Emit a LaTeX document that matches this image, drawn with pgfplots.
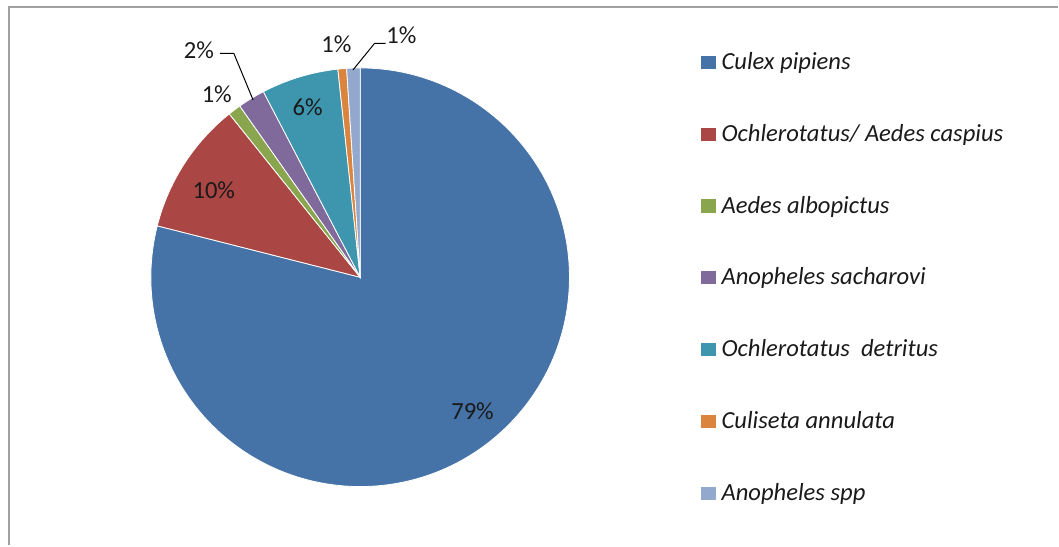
\documentclass[border=0pt]{standalone}
\usepackage{pgfplots}
\usepackage{pgfplotstable}
\pgfplotsset{compat=1.18}
\usepackage{fontspec}
\setmainfont{Carlito}
\definecolor{c1}{HTML}{4572A7}
\definecolor{c2}{HTML}{AA4643}
\definecolor{c3}{HTML}{89A54E}
\definecolor{c4}{HTML}{80699B}
\definecolor{c5}{HTML}{3D96AE}
\definecolor{c6}{HTML}{DB843D}
\definecolor{c7}{HTML}{92A8CD}
\definecolor{bordergray}{HTML}{A0A0A0}
\definecolor{txt}{HTML}{1A1A1A}

% share of each species (percent), clockwise from 12 o'clock
\pgfplotstableread[col sep=comma]{
name,value,color
Culex pipiens,78.95,c1
Ochlerotatus/ Aedes caspius,10.30,c2
Aedes albopictus,1.00,c3
Anopheles sacharovi,2.10,c4
Ochlerotatus detritus,5.95,c5
Culiseta annulata,0.67,c6
Anopheles spp,1.03,c7
}\piedata

\newcommand\PieR{104.75pt}
\gdef\piecmds{}
\gdef\cumval{0}
\pgfplotstablegetrowsof{\piedata}
\pgfmathtruncatemacro\lastrow{\pgfplotsretval-1}
\foreach \i in {0,...,\lastrow}{%
  \pgfplotstablegetelem{\i}{value}\of\piedata
  \let\sliceval\pgfplotsretval
  \pgfplotstablegetelem{\i}{color}\of\piedata
  \let\slicecol\pgfplotsretval
  \pgfmathsetmacro\angA{90-3.6*\cumval}%
  \pgfmathsetmacro\angB{90-3.6*(\cumval+\sliceval)}%
  \pgfmathsetmacro\newcum{\cumval+\sliceval}%
  \xdef\cumval{\newcum}%
  \xdef\piecmds{\unexpanded\expandafter{\piecmds}\noexpand\fill[\slicecol,draw=white,line width=0.4pt] (axis cs:360.5,277.5) -- ++(\angA:\PieR) arc[start angle=\angA,end angle=\angB,radius=\PieR] -- cycle;}%
}

\pgfplotsset{sqleg/.style={legend image code/.code={\fill[##1] (0pt,-3.3pt) rectangle (7.5pt,3.3pt);}}}
\newcommand\lblfont{\fontsize{12.3}{14}\selectfont}

\begin{document}
\begin{tikzpicture}
\begin{axis}[
  scale only axis, width=529.5pt, height=273pt,
  xmin=0, xmax=1059, ymin=0, ymax=546, y dir=reverse,
  hide axis, clip=false,
  legend cell align=left,
  legend style={at={(axis cs:701.7,52)}, anchor=north west, draw=none, fill=none,
    inner sep=0pt, row sep=25.9pt, text=txt,
    font=\lblfont\itshape,
    nodes={inner sep=0pt},
    /tikz/every odd column/.append style={column sep=2.6pt}},
]
\path (axis cs:0,0) rectangle (axis cs:1059,546);
\draw[bordergray, line width=1pt] (axis cs:9.5,546) -- (axis cs:9.5,7.3) -- (axis cs:1059,7.3);
\piecmds
\addlegendimage{sqleg, fill=c1, draw=none}\addlegendentry{Culex pipiens}
\addlegendimage{sqleg, fill=c2, draw=none}\addlegendentry{Ochlerotatus/ Aedes caspius}
\addlegendimage{sqleg, fill=c3, draw=none}\addlegendentry{Aedes albopictus}
\addlegendimage{sqleg, fill=c4, draw=none}\addlegendentry{Anopheles sacharovi}
\addlegendimage{sqleg, fill=c5, draw=none}\addlegendentry{Ochlerotatus\ \ detritus}
\addlegendimage{sqleg, fill=c6, draw=none}\addlegendentry{Culiseta annulata}
\addlegendimage{sqleg, fill=c7, draw=none}\addlegendentry{Anopheles spp}
% data labels
\begin{scope}[every node/.style={font=\lblfont, text=txt, inner sep=0pt}]
\node at (axis cs:473,411.7) {79\%};
\node at (axis cs:214,190) {10\%};
\node at (axis cs:217,94) {1\%};
\node at (axis cs:199,50) {2\%};
\node at (axis cs:308,107.5) {6\%};
\node at (axis cs:336.7,44) {1\%};
\node at (axis cs:401.7,35) {1\%};
\end{scope}
\draw[black, line width=0.5pt] (axis cs:220,53.3) -- (axis cs:234,53.3) -- (axis cs:253.3,100);
\draw[black, line width=0.5pt] (axis cs:386,43.3) -- (axis cs:375,43.3) -- (axis cs:353.3,70);
\end{axis}
\end{tikzpicture}
\end{document}
